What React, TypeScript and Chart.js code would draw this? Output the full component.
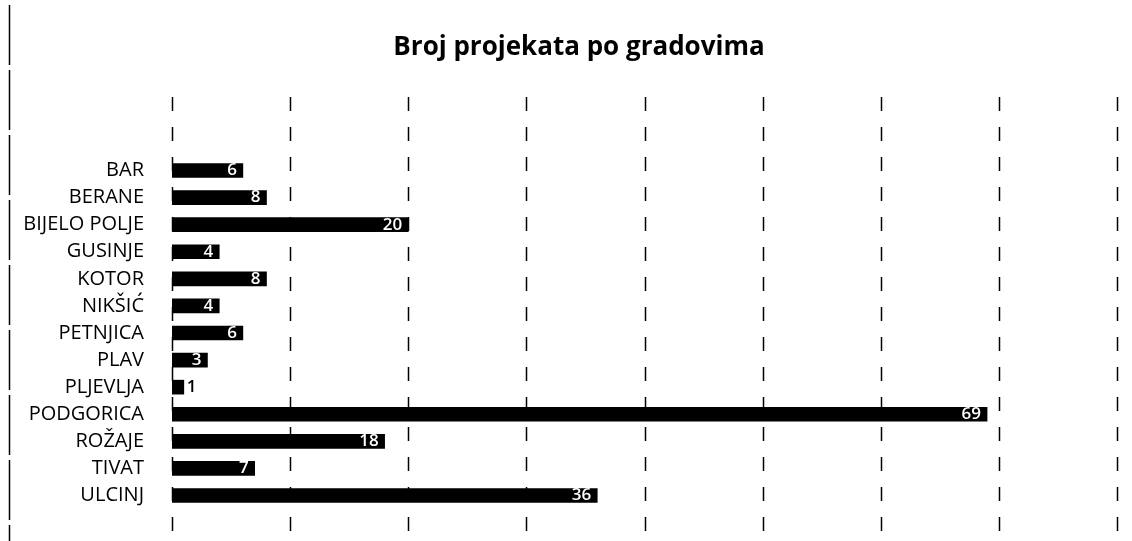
import React, { useEffect, useRef } from "react";
import { Chart, registerables } from "chart.js";

Chart.register(...registerables);

const categories = [
  "BAR",
  "BERANE",
  "BIJELO POLJE",
  "GUSINJE",
  "KOTOR",
  "NIKŠIĆ",
  "PETNJICA",
  "PLAV",
  "PLJEVLJA",
  "PODGORICA",
  "ROŽAJE",
  "TIVAT",
  "ULCINJ",
];
const projectCounts = [6, 8, 20, 4, 8, 4, 6, 3, 1, 69, 18, 7, 36];
const gridValues = [0, 10, 20, 30, 40, 50, 60, 70, 80];
const titleText = "Broj projekata po gradovima";

const FONT = "'Open Sans', 'DejaVu Sans', sans-serif";

const decorPlugin = {
  id: "decor",
  beforeDatasetsDraw(chart: any) {
    const { ctx, scales } = chart;
    const x = scales.x;
    ctx.save();
    ctx.strokeStyle = "#000";
    ctx.lineWidth = 1.5;
    ctx.setLineDash([14, 16]);
    gridValues.forEach((v) => {
      const px = Math.round(x.getPixelForValue(v)) + 0.5;
      ctx.beginPath();
      ctx.moveTo(px, 97);
      ctx.lineTo(px, 540);
      ctx.stroke();
    });
    ctx.setLineDash([60, 5]);
    ctx.beginPath();
    ctx.moveTo(9.5, 5);
    ctx.lineTo(9.5, 541);
    ctx.stroke();
    ctx.restore();
  },
  afterDatasetsDraw(chart: any) {
    const { ctx } = chart;
    const meta = chart.getDatasetMeta(0);
    ctx.save();
    ctx.font = `600 17px ${FONT}`;
    ctx.textBaseline = "middle";
    meta.data.forEach((bar: any, i: number) => {
      const v = projectCounts[i];
      if (v >= 3) {
        ctx.fillStyle = "#fff";
        ctx.textAlign = "right";
        ctx.fillText(String(v), bar.x - 6, bar.y);
      } else {
        ctx.fillStyle = "#000";
        ctx.textAlign = "left";
        ctx.fillText(String(v), bar.x + 3, bar.y);
      }
    });
    // title
    ctx.font = `bold 26px ${FONT}`;
    ctx.fillStyle = "#000";
    ctx.textAlign = "center";
    ctx.textBaseline = "middle";
    ctx.fillText(titleText, 579, 48);
    ctx.restore();
  },
};

export default function App() {
  const canvasRef = useRef<HTMLCanvasElement | null>(null);

  useEffect(() => {
    if (!canvasRef.current) return;
    const chart = new Chart(canvasRef.current, {
      type: "bar",
      data: {
        labels: categories,
        datasets: [
          {
            data: projectCounts,
            backgroundColor: "#000",
            borderWidth: 0,
            barThickness: 14,
          },
        ],
      },
      options: {
        animation: false,
        responsive: true,
        maintainAspectRatio: false,
        indexAxis: "y",
        layout: { padding: { left: 8, right: 15, top: 157, bottom: 20 } },
        plugins: {
          legend: { display: false },
          tooltip: { enabled: false },
          title: { display: false },
        },
        scales: {
          x: {
            type: "linear",
            min: 0,
            max: 80,
            display: false,
          },
          y: {
            grid: { display: false },
            border: { display: false },
            ticks: {
              color: "#000",
              padding: 20,
              font: { family: FONT, size: 20 },
            },
            afterFit: (scale: any) => {
              scale.width = 164;
            },
          },
        },
      },
      plugins: [decorPlugin],
    });
    return () => chart.destroy();
  }, []);

  return (
    <div
      style={{
        position: "fixed",
        left: 0,
        top: 0,
        width: 1132,
        height: 541,
        background: "#fff",
      }}
    >
      <canvas ref={canvasRef} />
    </div>
  );
}
